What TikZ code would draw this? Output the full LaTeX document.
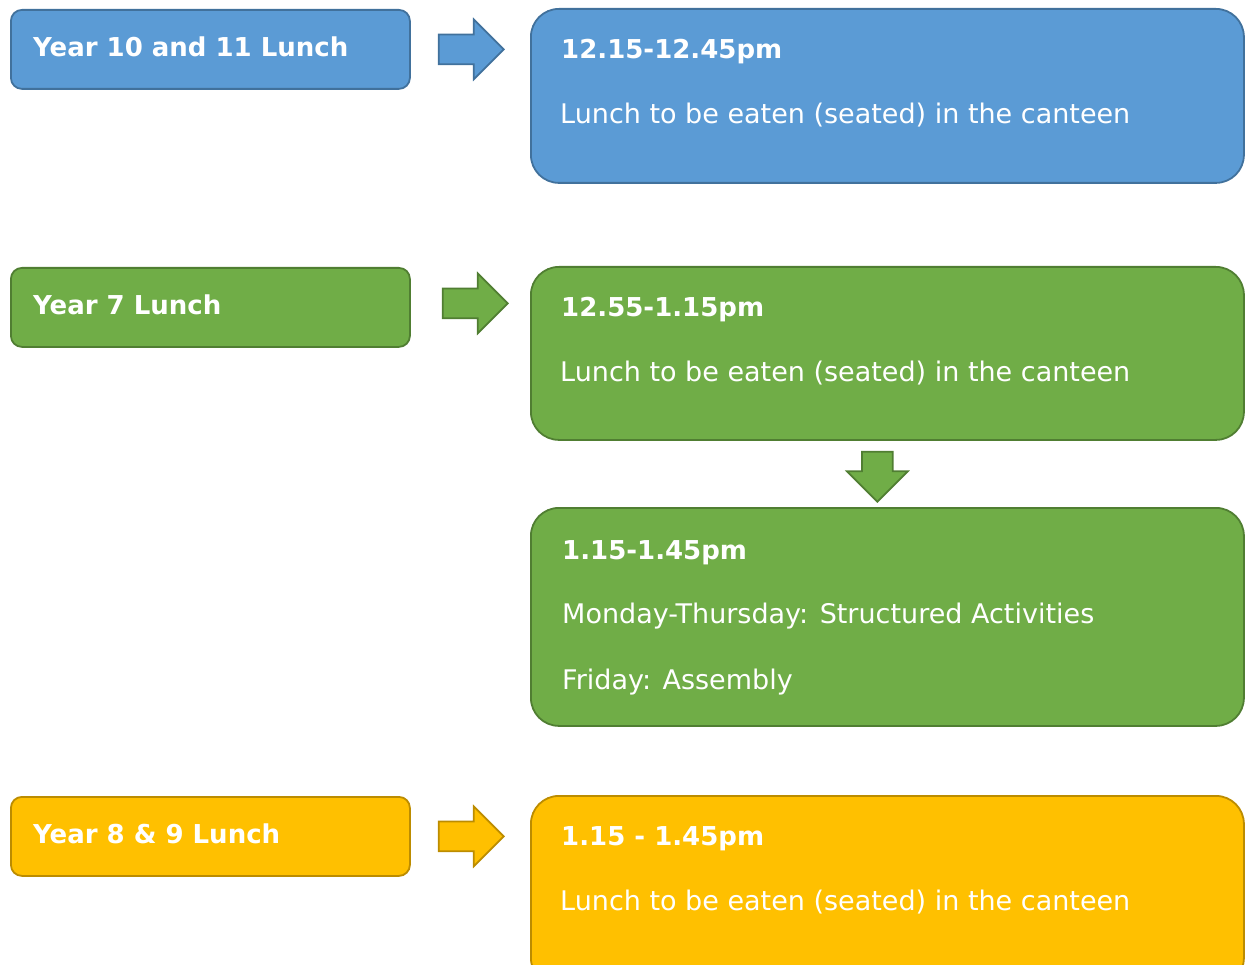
\documentclass[tikz,border=0pt]{standalone}
\usepackage{fontspec}
\setmainfont{DejaVu Sans}
\usetikzlibrary{shapes.arrows,calc}
\definecolor{blueFill}{HTML}{5B9BD5}
\definecolor{blueLine}{HTML}{41719C}
\definecolor{greenFill}{HTML}{70AD47}
\definecolor{greenLine}{HTML}{507E32}
\definecolor{yellowFill}{HTML}{FFC000}
\definecolor{yellowLine}{HTML}{BC8C00}

\begin{document}
\begin{tikzpicture}[x=1pt,y=-1pt,
  yearbox/.style={rectangle,rounded corners=11pt,line width=1.8pt,draw=#1Line,fill=#1Fill,
    minimum width=399pt,minimum height=79pt,anchor=north west,inner sep=0pt},
  timebox/.style={rectangle,rounded corners=28pt,line width=1.8pt,draw=#1Line,fill=#1Fill,
    minimum width=713pt,anchor=north west,inner sep=0pt},
  yeartext/.style={anchor=west,text=white,inner sep=0pt,font=\bfseries\fontsize{26}{30}\selectfont},
  timetext/.style={anchor=west,text=white,inner sep=0pt,font=\bfseries\fontsize{26}{30}\selectfont},
  bodytext/.style={anchor=west,text=white,inner sep=0pt,font=\fontsize{27}{32}\selectfont},
  blockarrow/.style={single arrow,draw=#1Line,fill=#1Fill,line width=1.8pt,minimum height=65pt,
    inner xsep=0pt,inner ysep=14pt,single arrow head extend=15pt,single arrow tip angle=90,anchor=tail}]
\useasboundingbox (0,0) rectangle (1246,965);
%Year boxes
\node at (10,9) [yearbox=blue] (y1011) {};
\node at (10,267) [yearbox=green] (y7) {};
\node at (10,796) [yearbox=yellow] (y89) {};
%Year labels
\node at ([xshift=23pt,yshift=3pt]y1011.west) [yeartext] (l1011) {Year 10 and 11 Lunch};
\node at ([xshift=23pt,yshift=3pt]y7.west) [yeartext] (l7) {Year 7 Lunch};
\node at ([xshift=23pt,yshift=3pt]y89.west) [yeartext] (l89) {Year 8 \& 9 Lunch};
%Time boxes
\node at (530,8) [timebox=blue,minimum height=174pt] (t1) {};
\node at (530,266) [timebox=green,minimum height=173pt] (t2) {};
\node at (530,507) [timebox=green,minimum height=218pt] (t3) {};
\node at (530,795) [timebox=yellow,minimum height=190pt] (t4) {};
%Times and texts
\node at (561,52) [timetext] (h1) {12.15-12.45pm};
\node at (560,115) [bodytext] (b1) {Lunch to be eaten (seated) in the canteen};
\node at (561,310) [timetext] (h2) {12.55-1.15pm};
\node at (560,373) [bodytext] (b2) {Lunch to be eaten (seated) in the canteen};
\node at (562,553) [timetext] (h3) {1.15-1.45pm};
\node at (562,616) [bodytext] (b3) {Monday-Thursday: Structured Activities};
\node at (562,682) [bodytext] (c3) {Friday: Assembly};
\node at (561,839) [timetext] (h4) {1.15 - 1.45pm};
\node at (560,902) [bodytext] (b4) {Lunch to be eaten (seated) in the canteen};
%Arrows
\node at ([xshift=27pt]y1011.east) [blockarrow=blue] (a1) {};
\node at ([xshift=31pt,yshift=4pt]y7.east) [blockarrow=green] (a2) {};
\node at ([xshift=27pt]y89.east) [blockarrow=yellow] (a3) {};
\node at ([xshift=-10pt,yshift=-10pt]t2.south) [blockarrow=green,shape border rotate=270,
  minimum height=50pt,inner xsep=14.5pt,inner ysep=0pt] (a4) {};
\end{tikzpicture}
\end{document}
